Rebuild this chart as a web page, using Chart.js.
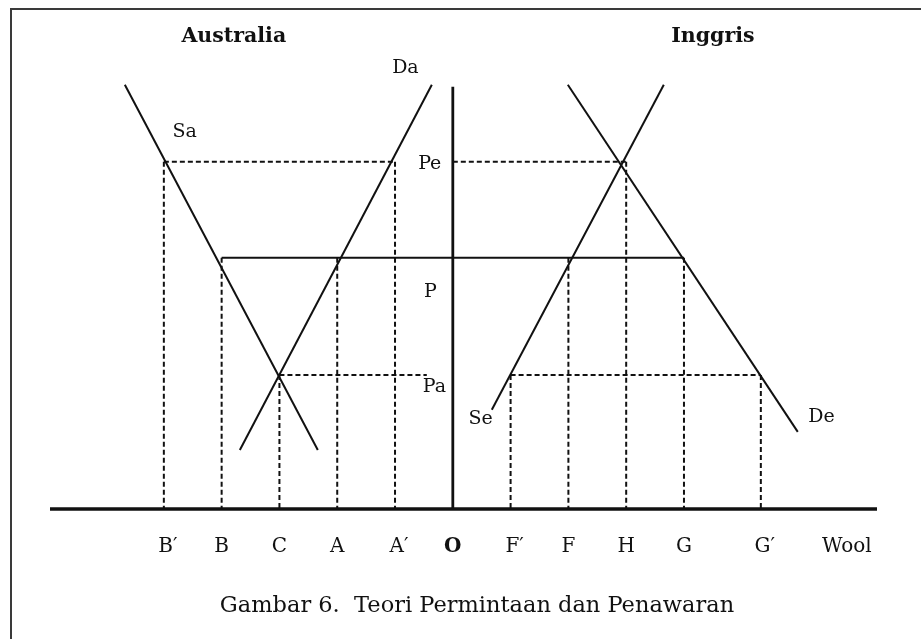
<!DOCTYPE html>
<html>
<head>
<meta charset="utf-8">
<script src="https://cdn.jsdelivr.net/npm/chart.js@4.4.1/dist/chart.umd.min.js"></script>
<style>
  body { margin: 0; background: #fff; }
  #wrap { width: 921px; height: 639px; }
</style>
</head>
<body>
<div id="wrap"><canvas id="wool-chart" width="921" height="639"></canvas></div>
<script>
// Gambar 6 - Teori Permintaan dan Penawaran (wool, Australia vs Inggris)

// quantity axis: O in the middle, Australia to the left, Inggris to the right
var qLabels = ['B\u2032', 'B', 'C', 'A', 'A\u2032', 'O', 'F\u2032', 'F', 'H', 'G', 'G\u2032', 'Wool'];
var qValues = [-5, -4, -3, -2, -1, 0, 1, 2, 3, 4, 5.33, 6.87];

// price levels
var priceLabels = ['Pe', 'P', 'Pa'];
var priceValues = [5.18, 3.75, 2.0];

// curve end points [x, y]
var saLine = [[-5.675, 6.33], [-2.336, 0.88]];
var daLine = [[-3.685, 0.88], [-0.363, 6.33]];
var seLine = [[0.675, 1.48], [3.651, 6.33]];
var deLine = [[1.99, 6.33], [5.969, 1.15]];

var xMin = -6.97, xMax = 7.34, yTop = 6.3;

function q(label) { return qValues[qLabels.indexOf(label)]; }
function p(label) { return priceValues[priceLabels.indexOf(label)]; }
function pts(arr) { return arr.map(function (a) { return { x: a[0], y: a[1] }; }); }

var ink = '#111';

function solid(data, width) {
  return { data: data, borderColor: ink, borderWidth: width, showLine: true, pointRadius: 0, fill: false, clip: false };
}
function dashed(data) {
  return { data: data, borderColor: ink, borderWidth: 2, borderDash: [5, 3], showLine: true, pointRadius: 0, fill: false, clip: false };
}

var datasets = [];

// vertical dashed drops from each intersection to the quantity axis
var drops = [['B\u2032', 'Pe'], ['B', 'P'], ['C', 'Pa'], ['A', 'P'], ['A\u2032', 'Pe'],
             ['F\u2032', 'Pa'], ['F', 'P'], ['H', 'Pe'], ['G', 'P'], ['G\u2032', 'Pa']];
drops.forEach(function (d) {
  datasets.push(dashed([{ x: q(d[0]), y: p(d[1]) }, { x: q(d[0]), y: 0 }]));
});

// horizontal price lines
datasets.push(dashed([{ x: q('B\u2032'), y: p('Pe') }, { x: q('A\u2032'), y: p('Pe') }]));
datasets.push(dashed([{ x: q('O'), y: p('Pe') }, { x: q('H'), y: p('Pe') }]));
datasets.push(dashed([{ x: q('C'), y: p('Pa') }, { x: -0.45, y: p('Pa') }]));
datasets.push(dashed([{ x: q('F\u2032'), y: p('Pa') }, { x: q('G\u2032'), y: p('Pa') }]));
datasets.push(solid([{ x: q('B'), y: p('P') }, { x: q('G'), y: p('P') }], 2));

// supply / demand curves
datasets.push(solid(pts(saLine), 2));
datasets.push(solid(pts(daLine), 2));
datasets.push(solid(pts(seLine), 2));
datasets.push(solid(pts(deLine), 2));

// axes
datasets.push(solid([{ x: 0, y: 0 }, { x: 0, y: yTop }], 2.8));
datasets.push(solid([{ x: xMin, y: 0 }, { x: xMax, y: 0 }], 3.4));

var serif = "'DejaVu Serif', serif";

var labelPlugin = {
  id: 'labels',
  afterDraw: function (chart) {
    var ctx = chart.ctx;
    var xs = chart.scales.x, ys = chart.scales.y;
    ctx.save();

    // frame
    ctx.strokeStyle = '#3a3a3a';
    ctx.lineWidth = 2;
    ctx.beginPath();
    ctx.moveTo(11, 660);
    ctx.lineTo(11, 9);
    ctx.lineTo(940, 9);
    ctx.stroke();

    ctx.fillStyle = ink;
    ctx.textAlign = 'center';
    ctx.textBaseline = 'alphabetic';

    // panel titles
    ctx.font = "bold 20.5px " + serif;
    ctx.fillText('Australia', xs.getPixelForValue(-3.79), 42);
    ctx.fillText('Inggris', xs.getPixelForValue(4.5), 42);

    // quantity tick labels
    qLabels.forEach(function (lab, i) {
      ctx.font = (lab === 'O' ? 'bold ' : '') + '20px ' + serif;
      var dx = lab.length > 1 && lab !== 'Wool' ? 4 : 0;
      if (lab === 'Wool') dx = -3;
      ctx.fillText(lab, xs.getPixelForValue(qValues[i]) + dx, 552);
    });

    // curve / price labels
    ctx.font = '19px ' + serif;
    ctx.textAlign = 'left';
    ctx.fillText('Da', xs.getPixelForValue(-1.05), 73);
    ctx.fillText('Sa', xs.getPixelForValue(-4.85), 137);
    ctx.fillText('Pe', xs.getPixelForValue(-0.6), ys.getPixelForValue(p('Pe')) + 7);
    ctx.fillText('P', xs.getPixelForValue(-0.5), 297);
    ctx.fillText('Pa', xs.getPixelForValue(-0.52), ys.getPixelForValue(p('Pa')) + 17);
    ctx.fillText('Se', xs.getPixelForValue(0.27), 424);
    ctx.fillText('De', xs.getPixelForValue(6.15), 422);

    // caption
    ctx.textAlign = 'center';
    ctx.font = '22.5px ' + serif;
    ctx.fillText('Gambar 6.  Teori Permintaan dan Penawaran', 477, 612);

    ctx.restore();
  }
};

var myChart = new Chart(document.getElementById('wool-chart').getContext('2d'), {
  type: 'scatter',
  data: { datasets: datasets },
  options: {
    responsive: false,
    animation: false,
    layout: { padding: { left: 50, right: 44, top: 80, bottom: 130 } },
    scales: {
      x: { type: 'linear', display: false, min: xMin, max: xMax },
      y: { type: 'linear', display: false, min: 0, max: 6.4 }
    },
    plugins: {
      legend: { display: false },
      tooltip: { enabled: false },
      title: { display: false }
    },
    elements: { line: { tension: 0, borderCapStyle: 'butt' } }
  },
  plugins: [labelPlugin]
});
</script>
</body>
</html>
